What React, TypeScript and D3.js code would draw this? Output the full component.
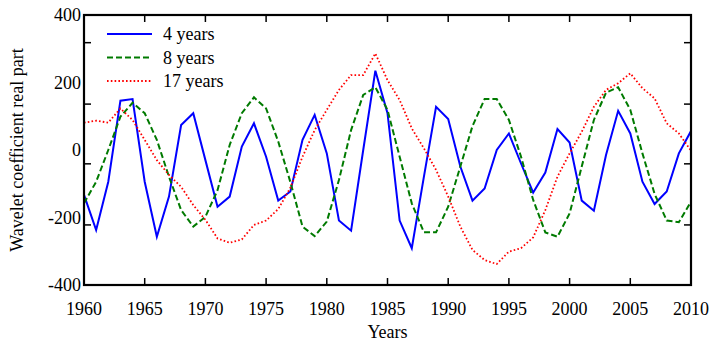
import React from "react";
import * as d3 from "d3";

// years 1960..2010, one value per year
const years = d3.range(1960, 2011);

const fourYears = [
  -133, -237, -94, 146, 151, -94, -257, -138, 74, 109,
  -30, -168, -138, 10, 79, -20, -150, -123, 30, 104,
  -10, -209, -239, 0, 235, 109, -209, -291, -79, 128,
  92, -49, -150, -114, 0, 49, -40, -126, -67, 62,
  22, -150, -180, -15, 116, 49, -94, -160, -123, -10,
  56,
];

const eightYears = [
  -158, -94, 0, 99, 140, 109, 30, -79, -178, -227,
  -198, -119, 15, 109, 156, 123, 25, -95, -227, -255,
  -212, -89, 59, 163, 186, 119, -20, -158, -244, -244,
  -168, -49, 71, 151, 151, 89, -20, -148, -244, -257,
  -188, -49, 89, 170, 186, 119, -10, -130, -209, -214,
  -153,
];

const seventeenYears = [
  81, 87, 81, 123, 89, 30, -30, -74, -109, -163,
  -207, -262, -275, -265, -222, -209, -175, -112, -20, 59,
  119, 178, 222, 222, 286, 207, 148, 64, 5, -59,
  -138, -227, -296, -326, -338, -301, -291, -259, -178, -79,
  -10, 54, 128, 178, 198, 227, 183, 153, 79, 49,
  -2,
];

const xTicks = d3.range(1960, 2011, 5);
const yLabels = [400, 200, 0, -200, -400];
const yTicks = [318, 136, -41, -222];

const series = [
  { name: "4 years", values: fourYears, color: "#0000ff", dash: "none", width: 2 },
  { name: "8 years", values: eightYears, color: "#007a00", dash: "6,3", width: 2 },
  { name: "17 years", values: seventeenYears, color: "#ff0000", dash: "1.6,2.2", width: 1.8 },
];

const serif = { fontFamily: '"Liberation Serif", "DejaVu Serif", serif' };

export default function App() {
  const width = 712;
  const height = 343;
  const margin = { left: 84, right: 21, top: 15, bottom: 58 };

  const x = d3
    .scaleLinear()
    .domain([1960, 2010])
    .range([margin.left, width - margin.right]);
  const y = d3
    .scaleLinear()
    .domain([-400, 400])
    .range([height - margin.bottom, margin.top]);

  const line = d3
    .line<number>()
    .x((d, i) => x(years[i]))
    .y(d => y(d));

  const x0 = x.range()[0];
  const x1 = x.range()[1];
  const yb = y.range()[0];
  const yt = y.range()[1];
  const tl = 7;

  return (
    <svg
      width={width}
      height={height}
      style={{ position: "absolute", left: 0, top: 0, background: "#fff" }}
    >
      <defs>
        <clipPath id="plot">
          <rect x={x0} y={yt} width={x1 - x0} height={yb - yt} />
        </clipPath>
      </defs>

      <g clipPath="url(#plot)">
        {series.map(s => (
          <path
            key={s.name}
            d={line(s.values) || ""}
            fill="none"
            stroke={s.color}
            strokeWidth={s.width}
            strokeDasharray={s.dash}
            strokeLinejoin="miter"
          />
        ))}
      </g>

      {/* ticks pointing inward */}
      <g stroke="#000" strokeWidth={1.5}>
        {xTicks.slice(1, -1).map(t => (
          <g key={t}>
            <line x1={x(t)} x2={x(t)} y1={yb} y2={yb - tl} />
            <line x1={x(t)} x2={x(t)} y1={yt} y2={yt + tl} />
          </g>
        ))}
        {yTicks.map(t => (
          <g key={t}>
            <line x1={x0} x2={x0 + tl} y1={y(t)} y2={y(t)} />
            <line x1={x1} x2={x1 - tl} y1={y(t)} y2={y(t)} />
          </g>
        ))}
      </g>

      <rect
        x={x0}
        y={yt}
        width={x1 - x0}
        height={yb - yt}
        fill="none"
        stroke="#000"
        strokeWidth={2.2}
      />

      {xTicks.map(t => (
        <text key={t} x={x(t)} y={yb + 30} fontSize={18} textAnchor="middle" style={serif}>
          {t}
        </text>
      ))}
      {yLabels.map(t => (
        <text
          key={t}
          x={x0 - 3}
          y={y(t)}
          dy="0.35em"
          fontSize={18}
          textAnchor="end"
          style={serif}
        >
          {t}
        </text>
      ))}

      <text x={(x0 + x1) / 2} y={yb + 53} fontSize={18} textAnchor="middle" style={serif}>
        Years
      </text>
      <text
        transform={`translate(23, ${(yt + yb) / 2}) rotate(-90)`}
        fontSize={18}
        textAnchor="middle"
        style={serif}
      >
        Wavelet coefficient real part
      </text>

      {/* legend */}
      <g>
        {series.map((s, i) => {
          const ly = 34 + i * 23.5;
          return (
            <g key={s.name}>
              <line
                x1={107}
                x2={152}
                y1={ly}
                y2={ly}
                stroke={s.color}
                strokeWidth={s.width}
                strokeDasharray={s.dash}
              />
              <text x={163} y={ly} dy="0.35em" fontSize={18} style={serif}>
                {s.name}
              </text>
            </g>
          );
        })}
      </g>
    </svg>
  );
}
